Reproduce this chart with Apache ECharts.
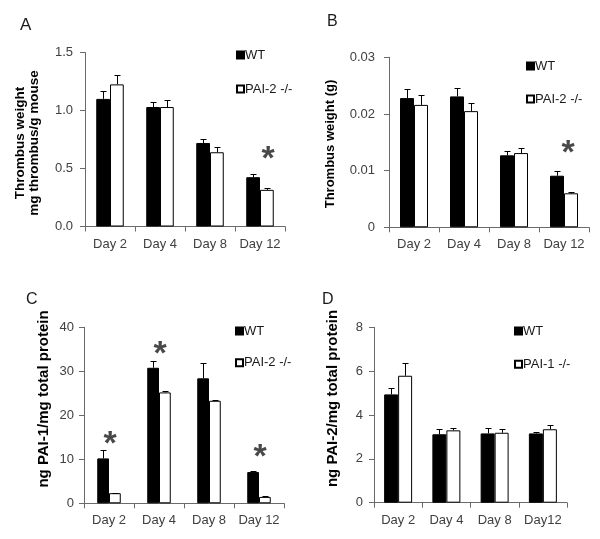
<!DOCTYPE html>
<html>
<head>
<meta charset="utf-8">
<script src="https://cdn.jsdelivr.net/npm/echarts@6.0.0/dist/echarts.min.js"></script>
<style>
html,body{margin:0;padding:0;background:#fff;}
#chart{width:600px;height:539px;}
</style>
</head>
<body>
<div id="chart"></div>
<script>
// ---------- data ----------
const categories  = ['Day 2', 'Day 4', 'Day 8', 'Day 12'];
const categoriesD = ['Day 2', 'Day 4', 'Day 8', 'Day12'];

// Panel A: thrombus weight (mg thrombus / g mouse)
const wtA      = [1.10, 1.03, 0.72, 0.425];
const wtErrA   = [0.07, 0.045, 0.035, 0.03];
const paiA     = [1.225, 1.03, 0.64, 0.316];
const paiErrA  = [0.085, 0.06, 0.045, 0.015];
const yTicksA  = ['0.0', '0.5', '1.0', '1.5'];
const starCatA = ['Day 12'];
const starYA   = [0.645];

// Panel B: thrombus weight (g)
const wtB      = [0.0228, 0.0231, 0.0127, 0.0091];
const wtErrB   = [0.0016, 0.0014, 0.0007, 0.0008];
const paiB     = [0.0216, 0.0205, 0.0131, 0.0060];
const paiErrB  = [0.0017, 0.0015, 0.0009, 0.0003];
const yTicksB  = ['0', '0.01', '0.02', '0.03'];
const starCatB = ['Day 12'];
const starYB   = [0.0144];

// Panel C: ng PAI-1 / mg total protein
const wtC      = [10.2, 30.8, 28.4, 7.1];
const wtErrC   = [2.0, 1.6, 3.4, 0.3];
const paiC     = [2.3, 25.2, 23.3, 1.45];
const paiErrC  = [0.15, 0.3, 0.1, 0.15];
const yTicksC  = ['0', '10', '20', '30', '40'];
const starCatC = ['Day 2', 'Day 4', 'Day 12'];
const starYC   = [15.1, 35.6, 12.1];

// Panel D: ng PAI-2 / mg total protein
const wtD      = [4.94, 3.12, 3.16, 3.16];
const wtErrD   = [0.3, 0.24, 0.23, 0.06];
const paiD     = [5.79, 3.30, 3.19, 3.35];
const paiErrD  = [0.6, 0.12, 0.16, 0.21];
const yTicksD  = ['0', '2', '4', '6', '8'];

const legendA = ['WT', 'PAI-2 -/-'];
const legendD = ['WT', 'PAI-1 -/-'];

// ---------- layout / style ----------
const FONT = 'Liberation Sans, Arial, sans-serif';
const AXIS_COLOR = '#6a6a6a';
const LABEL_COLOR = '#404040';

const panels = [
  {grid:{left:85, top:52.5, width:200, height:174}, cats:categories, wt:wtA, wtE:wtErrA, pai:paiA, paiE:paiErrA,
   names:legendA, ticks:yTicksA, step:0.5, gap:0.45, margin:12,
   stars:{cats:starCatA, y:starYA, dx:8},
   legend:{left:231, top:42.5, itemGap:19}},
  {grid:{left:389, top:57.3, width:200, height:170}, cats:categories, wt:wtB, wtE:wtErrB, pai:paiB, paiE:paiErrB,
   names:legendA, ticks:yTicksB, step:0.01, gap:0.44, margin:14,
   stars:{cats:starCatB, y:starYB, dx:4},
   legend:{left:521, top:53.5, itemGap:18}},
  {grid:{left:84, top:327.3, width:200, height:176}, cats:categories, wt:wtC, wtE:wtErrC, pai:paiC, paiE:paiErrC,
   names:legendA, ticks:yTicksC, step:10, gap:0.53, margin:10,
   stars:{cats:starCatC, y:starYC, dx:1},
   legend:{left:230, top:318.5, itemGap:16.7}},
  {grid:{left:374, top:327.3, width:193, height:175.4}, cats:categoriesD, wt:wtD, wtE:wtErrD, pai:paiD, paiE:paiErrD,
   names:legendD, ticks:yTicksD, step:2, gap:0.42, margin:11,
   stars:null,
   legend:{left:509, top:318.5, itemGap:18.3}}
];

const grids = [], xAxes = [], yAxes = [], series = [], legends = [];

panels.forEach((p, i) => {
  grids.push(Object.assign({containLabel:false}, p.grid));
  xAxes.push({
    type:'category', gridIndex:i, data:p.cats, boundaryGap:true,
    axisLine:{show:true, lineStyle:{color:AXIS_COLOR, width:1}},
    axisTick:{show:true, length:5, inside:false, alignWithLabel:false, lineStyle:{color:AXIS_COLOR}},
    axisLabel:{color:LABEL_COLOR, fontSize:13, fontFamily:FONT, margin:11, interval:0},
    splitLine:{show:false}
  });
  const maxV = p.step * (p.ticks.length - 1);
  yAxes.push({
    type:'value', gridIndex:i, min:0, max:maxV, interval:p.step,
    axisLine:{show:true, lineStyle:{color:AXIS_COLOR, width:1}},
    axisTick:{show:true, length:5, inside:false, lineStyle:{color:AXIS_COLOR}},
    axisLabel:{color:LABEL_COLOR, fontSize:13, fontFamily:FONT, margin:p.margin,
      formatter:(v) => p.ticks[Math.round(v / p.step)]},
    splitLine:{show:false}
  });
  const gapStr = Math.round(p.gap * 100) + '%';
  series.push({
    type:'bar', name:p.names[0], xAxisIndex:i, yAxisIndex:i, data:p.wt,
    barGap:'0%', barCategoryGap:gapStr,
    itemStyle:{color:'#000', borderColor:'#000', borderWidth:1},
    emphasis:{disabled:true}, z:2
  });
  series.push({
    type:'bar', name:p.names[1], xAxisIndex:i, yAxisIndex:i, data:p.pai,
    barGap:'0%', barCategoryGap:gapStr,
    itemStyle:{color:'#fff', borderColor:'#000', borderWidth:1},
    emphasis:{disabled:true}, z:2
  });
  [[p.wt, p.wtE, -1], [p.pai, p.paiE, 1]].forEach(([vals, errs, side], k) => {
    series.push({
      type:'custom', name:p.names[k] + ' SEM', xAxisIndex:i, yAxisIndex:i,
      data: vals.map((v, j) => [j, v, errs[j]]),
      encode:{x:0, y:1},
      z:3, silent:true,
      renderItem:(params, api) => {
        const ci = api.value(0), v = api.value(1), e = api.value(2);
        const band = api.size([1, 0])[0];
        const bw = band * (1 - p.gap) / 2;
        const base = api.coord([ci, v]);
        const top = api.coord([ci, v + e]);
        const x = Math.round(base[0] + side * bw / 2) + 0.5;
        const yT = Math.round(top[1]) + 0.5;
        return {type:'group', children:[
          {type:'line', shape:{x1:x, y1:base[1], x2:x, y2:yT}, style:{stroke:'#000', lineWidth:1}},
          {type:'line', shape:{x1:x - 3, y1:yT, x2:x + 3, y2:yT}, style:{stroke:'#000', lineWidth:1}}
        ]};
      }
    });
  });
  if (p.stars) {
    series.push({
      type:'scatter', name:'significance', xAxisIndex:i, yAxisIndex:i,
      data: p.stars.cats.map((c, j) => [c, p.stars.y[j]]),
      symbolSize:0, silent:true, z:4,
      label:{show:true, position:'inside', formatter:'*', color:'#1a1a1a',
        fontSize:34, fontWeight:'bold', fontFamily:FONT, offset:[p.stars.dx, 8]}
    });
  }
  legends.push({
    data:p.names, orient:'vertical', left:p.legend.left, top:p.legend.top,
    itemWidth:7, itemHeight:7, itemGap:p.legend.itemGap, icon:'rect',
    selectedMode:false,
    textStyle:{color:'#1a1a1a', fontSize:13, fontFamily:FONT, lineHeight:15, padding:[0,0,0,-4]}
  });
});

const txt = (x, y, text, opts) => Object.assign({
  type:'text', x:x, y:y,
  style:Object.assign({text:text, fill:'#1a1a1a', font:'16px ' + FONT, textAlign:'left', textVerticalAlign:'middle'}, opts && opts.style)
}, opts && opts.el);

const graphics = [
  txt(20, 25.5, 'A', {style:{font:'17px ' + FONT}}),
  txt(327, 21.5, 'B', {style:{font:'16px ' + FONT}}),
  txt(26, 299.5, 'C', {style:{font:'16px ' + FONT}}),
  txt(322, 299.5, 'D', {style:{font:'16px ' + FONT}}),
  txt(27.5, 143, 'Thrombus weight\nmg thrombus/g mouse',
      {style:{font:'bold 13.5px ' + FONT, textAlign:'center', lineHeight:14.5, fill:'#000'}, el:{rotation:Math.PI/2}}),
  txt(330.5, 144, 'Thrombus weight (g)',
      {style:{font:'bold 13px ' + FONT, textAlign:'center', fill:'#000'}, el:{rotation:Math.PI/2}}),
  txt(43.5, 399, 'ng PAI-1/mg total protein',
      {style:{font:'bold 15px ' + FONT, textAlign:'center', fill:'#000'}, el:{rotation:Math.PI/2}}),
  txt(333, 398.5, 'ng PAI-2/mg total protein',
      {style:{font:'bold 15px ' + FONT, textAlign:'center', fill:'#000'}, el:{rotation:Math.PI/2}})
];

const chart = echarts.init(document.getElementById('chart'), null, {renderer:'canvas'});
chart.setOption({
  backgroundColor:'#fff',
  animation:false,
  textStyle:{fontFamily:FONT},
  grid:grids, xAxis:xAxes, yAxis:yAxes, legend:legends, series:series,
  graphic:graphics
});
</script>
</body>
</html>
